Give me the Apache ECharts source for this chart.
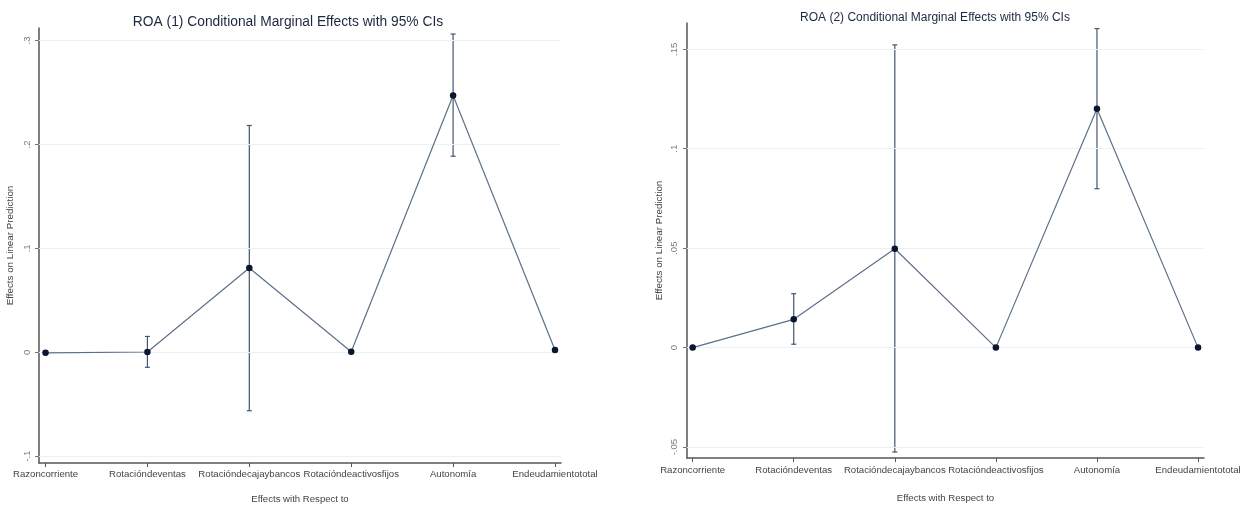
<!DOCTYPE html>
<html>
<head>
<meta charset="utf-8">
<script src="https://cdn.jsdelivr.net/npm/echarts@6/dist/echarts.min.js"></script>
<style>
html,body{margin:0;padding:0;background:#fff;}
#chart{width:1248px;height:509px;}
</style>
</head>
<body>
<div id="chart"></div>
<script>
// ---- data ----
const categories = ['Razoncorriente','Rotacióndeventas','Rotacióndecajaybancos','Rotacióndeactivosfijos','Autonomía','Endeudamientototal'];

const titleLeft = 'ROA (1) Conditional Marginal Effects with 95% CIs';
const titleRight = 'ROA (2) Conditional Marginal Effects with 95% CIs';

const effectsLeft = [-0.0006, 0.0002, 0.081, 0.0004, 0.247, 0.0022];
const lowerLeft   = [-0.0008, -0.0145, -0.0563, 0.0002, 0.1886, 0.0020];
const upperLeft   = [-0.0004, 0.0152, 0.2182, 0.0006, 0.3062, 0.0024];

const effectsRight = [0.0000, 0.0142, 0.0497, 0.0000, 0.1201, 0.0000];
const lowerRight   = [-0.0001, 0.0017, -0.0525, -0.0001, 0.0799, -0.0001];
const upperRight   = [0.0001, 0.0271, 0.1522, 0.0001, 0.1604, 0.0001];

const yTicksLeft = [-0.1, 0, 0.1, 0.2, 0.3];
const yTickLabelsLeft = ['-.1', '0', '.1', '.2', '.3'];
const yTicksRight = [-0.05, 0, 0.05, 0.1, 0.15];
const yTickLabelsRight = ['-.05', '0', '.05', '.1', '.15'];

const xPositions = categories.map((c, i) => i);

// ---- styles ----
const FONT = '"Liberation Sans", Arial, sans-serif';
const lineColor = '#5d7089';
const dotColor = '#0a1530';
const ciColor = '#44566e';
const gridColor = '#e6f4f6';
const axisColor = '#555';
const labelColor = '#7a7a7a';

function labelFor(ticks, labels) {
  return function (v) {
    let best = 0, bd = Infinity;
    ticks.forEach((t, i) => { const d = Math.abs(t - v); if (d < bd) { bd = d; best = i; } });
    return labels[best];
  };
}

function makeX(gi, min, max, nameGap, margin) {
  return {
    type: 'value', gridIndex: gi, min: min, max: max,
    name: 'Effects with Respect to', nameLocation: 'middle', nameGap: nameGap,
    nameTextStyle: { fontFamily: FONT, fontSize: 9.6, color: '#444' },
    axisLine: { show: true, onZero: false, lineStyle: { color: axisColor, width: 1.5 } },
    axisTick: { show: true, length: 4, customValues: xPositions, lineStyle: { color: axisColor } },
    axisLabel: { customValues: xPositions, margin: margin, fontFamily: FONT, fontSize: 9.6, color: '#444',
      formatter: v => categories[Math.round(v)] },
    splitLine: { show: false }
  };
}

function makeY(gi, min, max, ticks, labels, nameGap, margin) {
  return {
    type: 'value', gridIndex: gi, min: min, max: max,
    name: 'Effects on Linear Prediction', nameLocation: 'middle', nameGap: nameGap,
    nameRotate: 90,
    nameTextStyle: { fontFamily: FONT, fontSize: 9.8, color: '#444' },
    axisLine: { show: true, onZero: false, lineStyle: { color: axisColor, width: 1.5 } },
    axisTick: { show: true, length: 4, customValues: ticks, lineStyle: { color: '#777' } },
    axisLabel: { customValues: ticks, rotate: 90, margin: margin, fontFamily: FONT, fontSize: 9.6, color: labelColor,
      formatter: labelFor(ticks, labels) },
    splitLine: { show: false }
  };
}

function errorSeries(gi, lo, hi) {
  return {
    type: 'custom', xAxisIndex: gi, yAxisIndex: gi, z: 2,
    data: xPositions.map((x, i) => [x, lo[i], hi[i]]),
    encode: { x: 0, y: [1, 2] },
    renderItem: function (params, api) {
      const x = api.value(0);
      const a = api.coord([x, api.value(1)]);
      const b = api.coord([x, api.value(2)]);
      if (Math.abs(a[1] - b[1]) < 4) return null;
      const w = 2.5;
      const st = { stroke: ciColor, lineWidth: 1.2 };
      return { type: 'group', children: [
        { type: 'line', shape: { x1: a[0], y1: a[1], x2: b[0], y2: b[1] }, style: st },
        { type: 'line', shape: { x1: a[0] - w, y1: a[1], x2: a[0] + w, y2: a[1] }, style: st },
        { type: 'line', shape: { x1: b[0] - w, y1: b[1], x2: b[0] + w, y2: b[1] }, style: st }
      ]};
    }
  };
}

function gridSeries(gi, ticks) {
  return {
    type: 'line', xAxisIndex: gi, yAxisIndex: gi, data: [], z: 1, silent: true,
    markLine: { silent: true, symbol: 'none', label: { show: false },
      lineStyle: { color: gridColor, width: 1, type: 'solid' }, emphasis: { disabled: true },
      data: ticks.map(t => ({ yAxis: t })) }
  };
}

function pointSeries(gi, vals) {
  return {
    type: 'line', xAxisIndex: gi, yAxisIndex: gi, z: 10,
    data: xPositions.map((x, i) => [x, vals[i]]),
    symbol: 'circle', symbolSize: 6.5, showSymbol: true,
    itemStyle: { color: dotColor },
    lineStyle: { color: lineColor, width: 1.2 },
    emphasis: { disabled: true }
  };
}

const chart = echarts.init(document.getElementById('chart'), null, { renderer: 'canvas' });
chart.setOption({
  backgroundColor: '#fff',
  animation: false,
  title: [
    { text: titleLeft, left: 283, top: 10, textAlign: 'center',
      textStyle: { fontFamily: FONT, fontSize: 13.8, fontWeight: 'normal', color: '#1c2840' } },
    { text: titleRight, left: 930, top: 7, textAlign: 'center',
      textStyle: { fontFamily: FONT, fontSize: 12, fontWeight: 'normal', color: '#1c2840' } }
  ],
  grid: [
    { left: 39, top: 28, width: 522, height: 441 },
    { left: 687, top: 23, width: 517, height: 435 }
  ],
  xAxis: [
    makeX(0, -0.064, 5.059, 31, 6),
    makeX(1, -0.056, 5.059, 35, 7)
  ],
  yAxis: [
    makeY(0, -0.1066, 0.312, yTicksLeft, yTickLabelsLeft, 24, 7),
    makeY(1, -0.0555, 0.1632, yTicksRight, yTickLabelsRight, 23, 8)
  ],
  series: [
    gridSeries(0, yTicksLeft),
    gridSeries(1, yTicksRight),
    errorSeries(0, lowerLeft, upperLeft),
    errorSeries(1, lowerRight, upperRight),
    pointSeries(0, effectsLeft),
    pointSeries(1, effectsRight)
  ]
});
</script>
</body>
</html>
